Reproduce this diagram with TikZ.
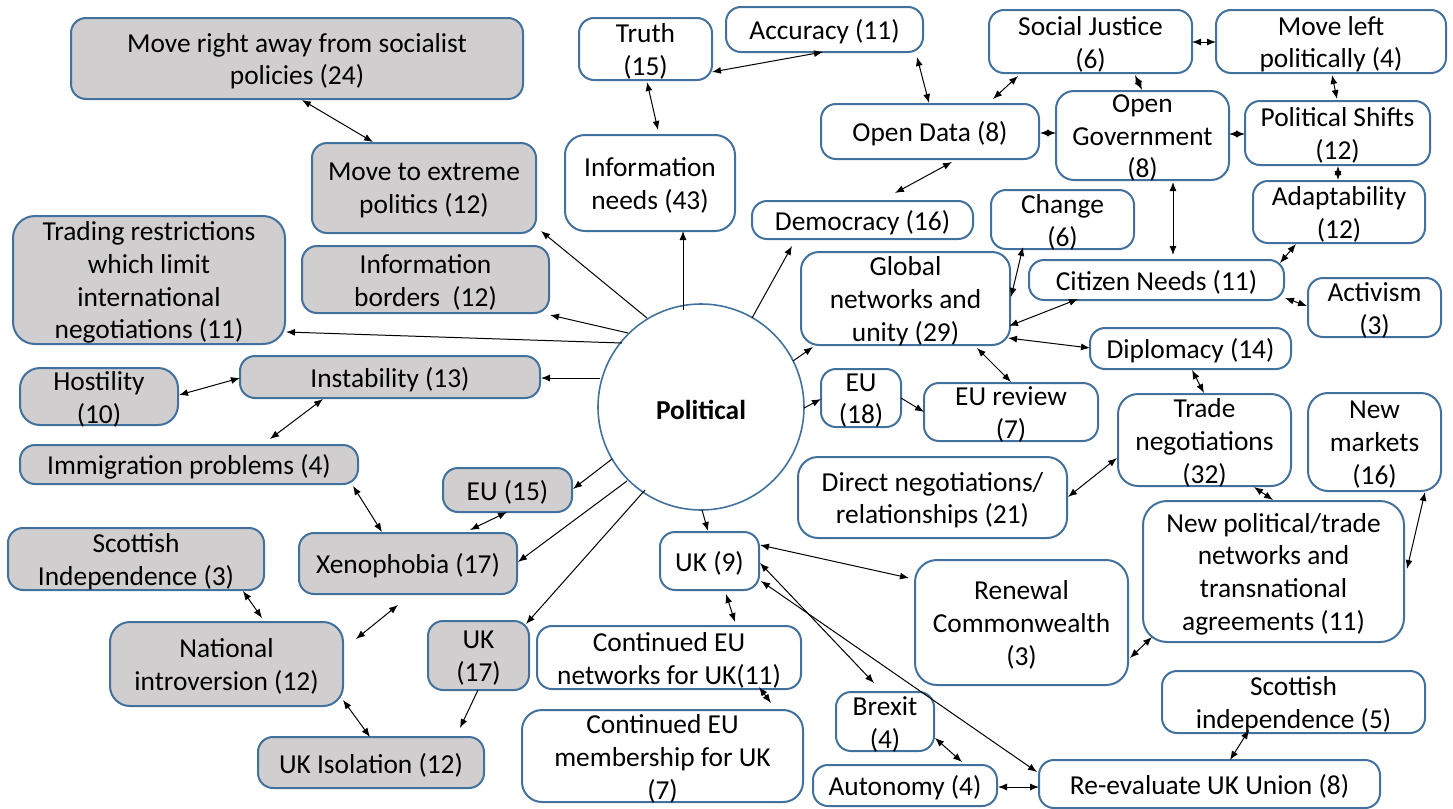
\documentclass[tikz,border=0pt]{standalone}
\usepackage{fontspec}
\setmainfont{Carlito}
\usetikzlibrary{arrows.meta}
\definecolor{bcol}{RGB}{65,113,156}
\definecolor{gfill}{RGB}{208,206,206}
\begin{document}
\begin{tikzpicture}[x=0.5pt,y=-0.5pt,
 lab/.style={align=center, inner sep=0pt, yshift=-1.3pt, font=\fontsize{13.7}{16.4}\selectfont},
 box/.style={draw=bcol, line width=1pt, rounded corners=7.5pt, inner sep=0pt},
 gbox/.style={box, fill=gfill},
 txt/.style={label={[lab]center:{#1}}},
 bb/.style args={#1/#2/#3/#4}{minimum width={(#3-#1)*0.5pt}, minimum height={(#4-#2)*0.5pt}, at={({(#1+#3)/2},{(#2+#4)/2})}},
 ar/.style={-{Latex[length=4.5pt,width=3.5pt]}, line width=0.5pt},
 bi/.style={{Latex[length=4.5pt,width=3.5pt]}-{Latex[length=4.5pt,width=3.5pt]}, line width=0.5pt}]
\useasboundingbox (0,0) rectangle (1453,809);
% gray boxes
\node[gbox, bb=71/18/523/99, txt={Move right away from socialist\\policies (24)}] (mr) {};
\node[gbox, bb=312/143/536/233, txt={Move to extreme\\politics (12)}] (me) {};
\node[gbox, bb=13/216/285/344, rounded corners=11pt, txt={Trading restrictions\\which limit\\international\\negotiations (11)}] (tr) {};
\node[gbox, bb=302/246/549/313, txt={Information\\borders\ \ (12)}] (ib) {};
\node[gbox, bb=20/368/178/425, rounded corners=10pt, txt={Hostility\\(10)}] (ho) {};
\node[gbox, bb=240/356/540/398, txt={Instability (13)}] (ins) {};
\node[gbox, bb=20/445/358/484, txt={Immigration problems (4)}] (im) {};
\node[gbox, bb=8/528/264/590, txt={Scottish\\Independence (3)}] (sc) {};
\node[gbox, bb=299/533/517/594, txt={Xenophobia (17)}] (xe) {};
\node[gbox, bb=443/468/572/512, txt={EU (15)}] (eu15) {};
\node[gbox, bb=110/622/343/706, rounded corners=10pt, txt={National\\introversion (12)}] (ni) {};
\node[gbox, bb=428/621/529/690, txt={UK\\(17)}] (uk17) {};
\node[gbox, bb=258/737/484/788, txt={UK Isolation (12)}] (uki) {};
% white boxes
\node[box, bb=579/18/712/80, txt={Truth\\(15)}] (tru) {};
\node[box, bb=726/7/923/52, txt={Accuracy (11)}] (acc) {};
\node[box, bb=821/104/1039/159, txt={Open Data (8)}] (od) {};
\node[box, bb=565/135/735/231, rounded corners=10pt, txt={Information\\needs (43)}] (inn) {};
\node[box, bb=752/201/973/239, txt={Democracy (16)}] (dem) {};
\node[box, bb=801/252/1010/345, rounded corners=9pt, txt={Global\\networks and\\unity (29)}] (gn) {};
\node[box, bb=989/10/1192/73, txt={Social Justice\\(6)}] (sj) {};
\node[box, bb=1216/10/1446/73, txt={Move left\\politically (4)}] (ml) {};
\node[box, bb=1056/91/1229/180, rounded corners=9pt, txt={Open\\Government\\(8)}] (og) {};
\node[box, bb=1245/101/1430/165, txt={Political Shifts\\(12)}] (ps) {};
\node[box, bb=1253/181/1425/243, txt={Adaptability\\(12)}] (ad) {};
\node[box, bb=991/190/1134/249, txt={Change\\(6)}] (ch) {};
\node[box, bb=1029/260/1284/300, txt={Citizen Needs (11)}] (cn) {};
\node[box, bb=1308/278/1441/337, txt={Activism\\(3)}] (ac) {};
\node[box, bb=1090/328/1291/369, txt={Diplomacy (14)}] (dip) {};
\node[box, bb=821/369/901/427, txt={EU\\(18)}] (eu18) {};
\node[box, bb=924/383/1098/441, txt={EU review\\(7)}] (eur) {};
\node[box, bb=1118/394/1291/486, rounded corners=10pt, txt={Trade\\negotiations\\(32)}] (tn) {};
\node[box, bb=1308/393/1441/491, rounded corners=10pt, txt={New\\markets\\(16)}] (nm) {};
\node[box, bb=798/457/1067/538, rounded corners=10pt, txt={Direct negotiations/\\relationships (21)}] (dn) {};
\node[box, bb=1143/501/1404/642, rounded corners=12pt, txt={New political/trade\\networks and\\transnational\\agreements (11)}] (np) {};
\node[box, bb=915/560/1128/685, rounded corners=11pt, txt={Renewal\\Commonwealth\\(3)}] (rc) {};
\node[box, bb=1162/671/1425/733, txt={Scottish\\independence (5)}] (si) {};
\node[box, bb=836/692/934/751, txt={Brexit\\(4)}] (br) {};
\node[box, bb=813/765/997/806, txt={Autonomy (4)}] (au) {};
\node[box, bb=1039/760/1380/808, txt={Re-evaluate UK Union (8)}] (re) {};
\node[box, bb=660/532/759/590, txt={UK (9)}] (uk9) {};
\node[box, bb=537/626/801/689, txt={Continued EU\\networks for UK(11)}] (cen) {};
\node[box, bb=522/710/803/802, rounded corners=10pt, txt={Continued EU\\membership for UK\\(7)}] (cem) {};
% centre
\node[circle, draw=bcol, line width=0.8pt, minimum size=103pt, inner sep=0pt, label={[lab, font=\bfseries\fontsize{13.7}{16.4}\selectfont]center:Political}] (pol) at (701,407) {};
% arrows from Political
\draw[ar] ([shift={(-54,-89)}]pol.center) -- ([shift={(117,43)}]me.center);
\draw[ar] ([shift={(-73,-74)}]pol.center) -- ([shift={(124.5,35.5)}]ib.center);
\draw[ar] ([shift={(-79,-64)}]pol.center) -- ([shift={(137,52)}]tr.center);
\draw[ar] ([shift={(-101,-29)}]pol.center) -- ([shift={(151,1)}]ins.center);
\draw[ar] ([shift={(-18,-97)}]pol.center) -- ([shift={(33,48)}]inn.center);
\draw[ar] ([shift={(51,-89)}]pol.center) -- ([shift={(-70.5,26)}]dem.center);
\draw[ar] ([shift={(92,-46)}]pol.center) -- ([shift={(-92.5,48.5)}]gn.center);
\draw[ar] ([shift={(103,1)}]pol.center) -- ([shift={(-40,1)}]eu18.center);
\draw[ar] ([shift={(-89,52)}]pol.center) -- ([shift={(65.5,-1)}]eu15.center);
\draw[ar] ([shift={(-74,74)}]pol.center) -- ([shift={(110,-1.5)}]xe.center);
\draw[ar] ([shift={(-56,83)}]pol.center) -- ([shift={(47.5,-31.5)}]uk17.center);
\draw[ar] ([shift={(1,103)}]pol.center) -- ([shift={(-1.5,-30)}]uk9.center);
% other connectors
\draw[bi] ([shift={(5,41.5)}]mr.center) -- ([shift={(-51,-46)}]me.center);
\draw[bi] ([shift={(1.5,33)}]tru.center) -- ([shift={(8,-53)}]inn.center);
\draw[bi] ([shift={(66.5,23)}]tru.center) -- ([shift={(-1.5,22.5)}]acc.center);
\draw[bi] ([shift={(92.5,27.5)}]acc.center) -- ([shift={(-1,-28.5)}]od.center);
\draw[bi] ([shift={(22,30.5)}]od.center) -- ([shift={(32.5,-27)}]dem.center);
\draw[bi] ([shift={(-72.5,34.5)}]sj.center) -- ([shift={(63,-32.5)}]od.center);
\draw[bi] ([shift={(44.5,33.5)}]sj.center) -- ([shift={(-0.5,-45.5)}]og.center);
\draw[bi] ([shift={(101.5,0.5)}]sj.center) -- ([shift={(-115,0.5)}]ml.center);
\draw[bi] ([shift={(1,33.5)}]ml.center) -- ([shift={(-0.5,-34)}]ps.center);
\draw[bi] ([shift={(110,1.5)}]od.center) -- ([shift={(-86.5,-2.5)}]og.center);
\draw[bi] ([shift={(86.5,-1.5)}]og.center) -- ([shift={(-92.5,1)}]ps.center);
\draw[bi] ([shift={(0.5,33)}]ps.center) -- ([shift={(-1,-32)}]ad.center);
\draw[bi] ([shift={(30.5,46.5)}]og.center) -- ([shift={(16.5,-25)}]cn.center);
\draw[bi] ([shift={(-43,32)}]ad.center) -- ([shift={(123.5,-17)}]cn.center);
\draw[bi] ([shift={(128.5,18)}]cn.center) -- ([shift={(-67.5,-1.5)}]ac.center);
\draw[bi] ([shift={(-39.5,27.5)}]ch.center) -- ([shift={(105.5,-1.5)}]gn.center);
\draw[bi] ([shift={(-78.5,19)}]cn.center) -- ([shift={(103.5,27.5)}]gn.center);
\draw[bi] ([shift={(102.5,39.5)}]gn.center) -- ([shift={(-100.5,-0.5)}]dip.center);
\draw[bi] ([shift={(71.5,49.5)}]gn.center) -- ([shift={(0,-30)}]eur.center);
\draw[ar] ([shift={(40,0)}]eu18.center) -- ([shift={(-87,0)}]eur.center);
\draw[bi] ([shift={(1.5,21.5)}]dip.center) -- ([shift={(-0.5,-47)}]tn.center);
\draw[bi] ([shift={(135.5,-0.5)}]dn.center) -- ([shift={(-87.5,18)}]tn.center);
\draw[bi] ([shift={(49.5,47)}]tn.center) -- ([shift={(-0.5,-71.5)}]np.center);
\draw[bi] ([shift={(50.5,50)}]nm.center) -- ([shift={(133.5,-2.5)}]np.center);
\draw[bi] ([shift={(108.5,35.5)}]rc.center) -- ([shift={(-121.5,65.5)}]np.center);
\draw[bi] ([shift={(50.5,-16)}]uk9.center) -- ([shift={(-112.5,-44.5)}]rc.center);
\draw[bi] ([shift={(50.5,2)}]uk9.center) -- ([shift={(-11,-38.5)}]br.center);
\draw[bi] ([shift={(51.5,20)}]uk9.center) -- ([shift={(-172.5,-12)}]re.center);
\draw[bi] ([shift={(50,16.5)}]br.center) -- ([shift={(57,-23.5)}]au.center);
\draw[bi] ([shift={(93,1.5)}]au.center) -- ([shift={(-170.5,3)}]re.center);
\draw[bi] ([shift={(-44.5,28)}]si.center) -- ([shift={(20.5,-24)}]re.center);
\draw[bi] ([shift={(16.5,33)}]uk9.center) -- ([shift={(66,-35.5)}]cen.center);
\draw[bi] ([shift={(90,29.5)}]cen.center) -- ([shift={(108.5,-53)}]cem.center);
\draw[bi] ([shift={(80,-1.5)}]ho.center) -- ([shift={(-150,1)}]ins.center);
\draw[bi] ([shift={(-67,22)}]ins.center) -- ([shift={(81,-25.5)}]im.center);
\draw[bi] ([shift={(164,21.5)}]im.center) -- ([shift={(-26,-31.5)}]xe.center);
\draw[bi] ([shift={(-0.5,22)}]eu15.center) -- ([shift={(62,-33.5)}]xe.center);
\draw[bi] ([shift={(107,32)}]sc.center) -- ([shift={(35.5,-46)}]ni.center);
\draw[bi] ([shift={(-10,41.5)}]xe.center) -- ([shift={(129.5,-25)}]ni.center);
\draw[bi] ([shift={(116.5,36)}]ni.center) -- ([shift={(-1,-25.5)}]uki.center);
\draw[ar] ([shift={(-0.5,34.5)}]uk17.center) -- ([shift={(89,-34.5)}]uki.center);
\end{tikzpicture}
\end{document}
